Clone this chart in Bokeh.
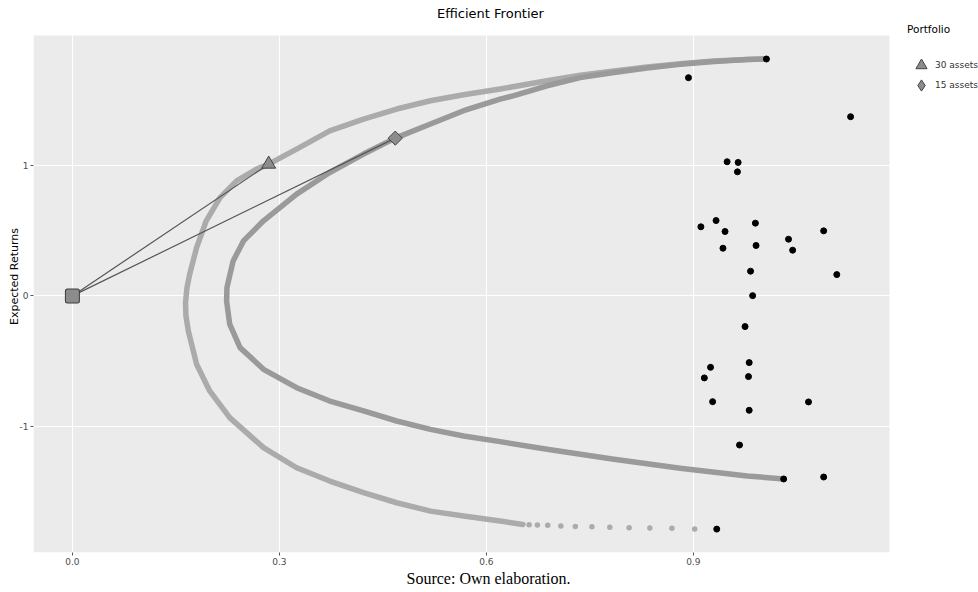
import numpy as np
from bokeh.plotting import figure
from bokeh.models import (Range1d, FixedTicker, NumeralTickFormatter, Title, Label,
                          Legend, LegendItem, BoxAnnotation)
from bokeh.embed import file_html
from bokeh.resources import INLINE

# ---------------- data ----------------
x_ticks = [0.0, 0.3, 0.6, 0.9]
y_ticks = [-1, 0, 1]

# individual assets (volatility, expected return)
asset_sigma = [1.006, 0.893, 1.128, 0.949, 0.965, 0.964, 0.911, 0.933, 0.990, 0.946,
               1.089, 1.038, 0.943, 0.991, 1.044, 0.983, 1.108, 0.986, 0.975, 0.981,
               0.925, 0.916, 0.980, 0.928, 1.067, 0.981, 0.967, 1.031, 1.089, 0.934]
asset_return = [1.814, 1.671, 1.372, 1.027, 1.022, 0.950, 0.529, 0.577, 0.557, 0.493,
                0.498, 0.434, 0.365, 0.386, 0.350, 0.189, 0.163, 0.002, -0.235, -0.511,
                -0.547, -0.628, -0.618, -0.810, -0.812, -0.876, -1.142, -1.402, -1.387, -1.786]

# frontier with 30 assets (dense part)
f30_sigma = [0.653, 0.620, 0.567, 0.519, 0.470, 0.422, 0.373, 0.325, 0.277, 0.228,
             0.199, 0.180, 0.168, 0.1645, 0.164, 0.166, 0.170, 0.180, 0.194, 0.214,
             0.238, 0.267, 0.2845, 0.325, 0.373, 0.422, 0.470, 0.519, 0.567, 0.620,
             0.688, 0.736, 0.785, 0.833, 0.881, 0.930, 0.978, 1.006]
f30_return = [-1.750, -1.724, -1.686, -1.648, -1.584, -1.507, -1.418, -1.316, -1.162, -0.932,
              -0.728, -0.523, -0.268, -0.150, -0.050, 0.060, 0.166, 0.370, 0.575, 0.753,
              0.881, 0.971, 1.009, 1.124, 1.264, 1.354, 1.431, 1.494, 1.540, 1.584,
              1.648, 1.690, 1.722, 1.752, 1.778, 1.798, 1.811, 1.814]
# sparse tail of the 30-asset frontier
tail30_sigma = [0.662, 0.674, 0.689, 0.708, 0.729, 0.753, 0.779, 0.807, 0.837, 0.869, 0.902]
tail30_return = [-1.752, -1.755, -1.757, -1.762, -1.765, -1.768, -1.772, -1.775, -1.778, -1.780, -1.785]

# frontier with 15 assets
f15_sigma = [1.031, 0.978, 0.881, 0.785, 0.688, 0.620, 0.567, 0.519, 0.470, 0.422,
             0.373, 0.325, 0.277, 0.243, 0.228, 0.2235, 0.224, 0.233, 0.248, 0.277,
             0.325, 0.373, 0.422, 0.468, 0.519, 0.567, 0.620, 0.640, 0.688, 0.736,
             0.785, 0.833, 0.881, 0.930, 0.978, 1.006]
f15_return = [-1.402, -1.379, -1.320, -1.251, -1.175, -1.116, -1.073, -1.022, -0.958, -0.881,
              -0.805, -0.703, -0.562, -0.396, -0.217, -0.040, 0.064, 0.268, 0.421, 0.575,
              0.779, 0.945, 1.086, 1.208, 1.316, 1.418, 1.507, 1.533, 1.609, 1.672,
              1.710, 1.745, 1.773, 1.795, 1.810, 1.814]

# risk-free point and tangency portfolios
rf_sigma, rf_return = 0.0, 0.0
tan30_sigma, tan30_return = 0.2845, 1.009
tan15_sigma, tan15_return = 0.468, 1.208
legend_title = "Portfolio"
legend_labels = ["30 assets", "15 assets"]

# ---------------- layout ----------------
# grey panel limits (data units) and the extra room kept for title/legend
panel_x = (-0.0564, 1.1844)
panel_y = (-1.965, 1.994)
px_per_x = 856 / (panel_x[1] - panel_x[0])
px_per_y = 517 / (panel_y[1] - panel_y[0])
x_end = panel_x[0] + 945 / px_per_x     # frame reaches the right edge
y_end = panel_y[1] + 35 / px_per_y      # frame reaches the top edge

p = figure(width=978, height=592, title=None,
           x_range=Range1d(panel_x[0], x_end), y_range=Range1d(panel_y[0], y_end),
           output_backend="svg", toolbar_location=None,
           min_border_left=33, min_border_right=0, min_border_top=0, min_border_bottom=40)
p.background_fill_color = "white"
p.border_fill_color = "white"
p.outline_line_color = None
p.add_layout(BoxAnnotation(left=panel_x[0], right=panel_x[1], bottom=panel_y[0], top=panel_y[1],
                           fill_color="#ebebeb", fill_alpha=1, line_color=None, level="image"))

p.xaxis.ticker = FixedTicker(ticks=x_ticks)
p.yaxis.ticker = FixedTicker(ticks=y_ticks)
p.xaxis.formatter = NumeralTickFormatter(format="0.0")
p.yaxis.formatter = NumeralTickFormatter(format="0")
for ax in (p.xaxis, p.yaxis):
    ax.axis_line_color = None
    ax.major_tick_line_color = "#555555"
    ax.major_tick_out = 3
    ax.major_tick_in = 0
    ax.minor_tick_line_color = None
    ax.major_label_text_color = "#4d4d4d"
    ax.major_label_text_font = "DejaVu Sans"
    ax.major_label_text_font_size = "9px"
    ax.major_label_standoff = 2
p.yaxis.axis_label = "Expected Returns"
p.yaxis.axis_label_standoff = -4
p.yaxis.axis_label_text_font = "DejaVu Sans"
p.yaxis.axis_label_text_font_size = "11px"
p.yaxis.axis_label_text_font_style = "normal"
p.yaxis.axis_label_text_color = "black"
for g in (p.xgrid, p.ygrid):
    g.grid_line_color = "white"
    g.grid_line_width = 1

# frontiers
p.line(f30_sigma, f30_return, line_color="#ababab", line_width=5.5,
       line_cap="round", line_join="round")
p.scatter(tail30_sigma, tail30_return, size=5.5, fill_color="#ababab", line_color=None)
p.line(f15_sigma, f15_return, line_color="#9a9a9a", line_width=5.5,
       line_cap="round", line_join="round")

# capital market lines
p.line([rf_sigma, tan30_sigma], [rf_return, tan30_return], line_color="#555555", line_width=1.2)
p.line([rf_sigma, tan15_sigma], [rf_return, tan15_return], line_color="#555555", line_width=1.2)

# assets
p.scatter(asset_sigma, asset_return, size=6, fill_color="black", line_color="black")

# risk-free (rounded square)
p.scatter([rf_sigma], [rf_return], marker="square", size=10, fill_color="#3d3d3d",
          line_color="#3d3d3d", line_width=5, line_join="round")
p.scatter([rf_sigma], [rf_return], marker="square", size=10, fill_color="#8c8c8c",
          line_color="#8c8c8c", line_width=3, line_join="round")

# tangency portfolios
tri = p.scatter([tan30_sigma], [tan30_return], marker="triangle", size=14,
                fill_color="#8c8c8c", line_color="#444444", line_width=1)
p.scatter([tan15_sigma], [tan15_return], marker="square", angle=np.pi / 4, size=10,
          fill_color="#8c8c8c", line_color="#444444", line_width=1)
# legend key for the diamond (legend glyphs are drawn unrotated)
dia_key = p.scatter([tan15_sigma], [tan15_return], marker="diamond", size=15,
                    fill_color="#8c8c8c", line_color="#444444", line_width=1, visible=False)


def make_legend(item, title, loc):
    lg = Legend(items=[item], location=loc)
    if title:
        lg.title = title
    lg.border_line_color = None
    lg.background_fill_alpha = 0
    lg.padding = 0
    lg.margin = 0
    lg.spacing = 0
    lg.glyph_width = 28
    lg.glyph_height = 32
    lg.label_height = 20
    lg.label_standoff = 0
    lg.title_standoff = 14
    lg.label_text_font = "DejaVu Sans"
    lg.label_text_font_size = "9px"
    lg.label_text_color = "#333333"
    lg.title_text_font = "DejaVu Sans"
    lg.title_text_font_size = "10.5px"
    lg.title_text_font_style = "normal"
    lg.title_text_color = "black"
    return lg


p.add_layout(make_legend(LegendItem(label=legend_labels[0], renderers=[tri]),
                         legend_title, (874, 471)))
p.add_layout(make_legend(LegendItem(label=legend_labels[1], renderers=[dia_key]),
                         None, (874, 451)))

p.add_layout(Label(x=457, y=539, x_units="screen", y_units="screen", text="Efficient Frontier",
                   text_align="center", text_baseline="middle", text_font="DejaVu Sans",
                   text_font_size="13px", text_color="black"))

source = Title(text="Source: Own elaboration.", align="left", offset=373, standoff=0,
               text_font="Liberation Serif", text_font_size="16px",
               text_font_style="normal", text_color="black")
p.add_layout(source, "below")

open("out.html", "w").write(file_html(p, INLINE))
